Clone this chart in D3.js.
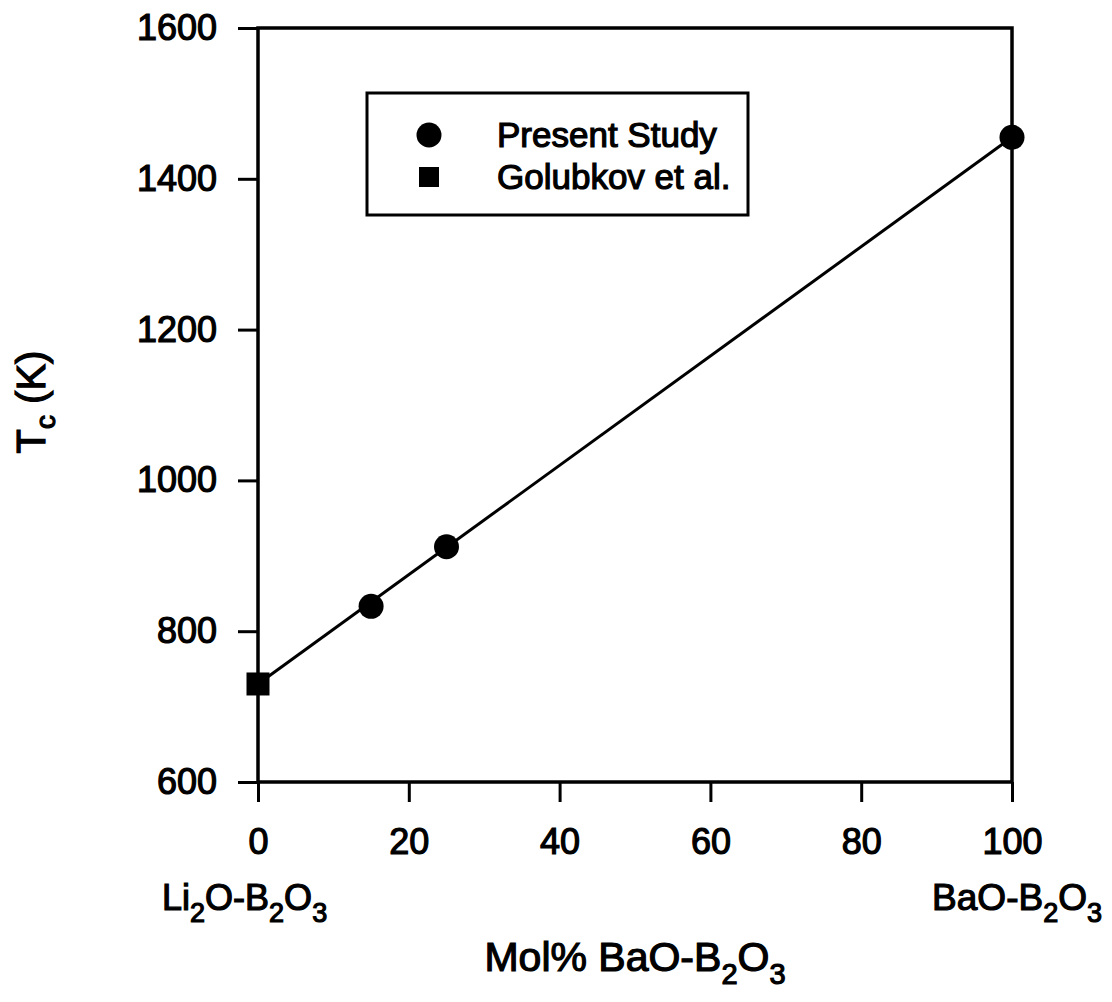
<!DOCTYPE html>
<html><head><meta charset="utf-8">
<script src="https://cdn.jsdelivr.net/npm/d3@7"></script>
<style>body{margin:0;background:#fff}svg{display:block}text{font-family:"Liberation Sans",Arial,sans-serif;fill:#000;stroke:#000;stroke-width:1.2px}</style>
</head><body><svg id="c" width="1112" height="1002"></svg>
<script>
const presentX = [15, 25, 100];
const presentY = [833, 912, 1455];
const golubkovX = [0];
const golubkovY = [730];
const fitX = [0, 100];
const fitY = [730, 1455];
const xTicks = [0, 20, 40, 60, 80, 100];
const yTicks = [600, 800, 1000, 1200, 1400, 1600];
const legendLabels = ["Present Study", "Golubkov et al."];

const svg = d3.select("#c");
const x = d3.scaleLinear().domain([0, 100]).range([258, 1012]);
const y = d3.scaleLinear().domain([600, 1600]).range([782, 28]);
const FS = 36;

// axes
const gx = svg.append("g").attr("transform", "translate(0,782)")
  .call(d3.axisBottom(x).tickValues(xTicks).tickSize(20).tickPadding(26).tickFormat(d3.format("d")));
const gy = svg.append("g").attr("transform", "translate(258,0)")
  .call(d3.axisLeft(y).tickValues(yTicks).tickSize(20).tickPadding(21).tickFormat(d3.format("d")));
[gx, gy].forEach(g => {
  g.select(".domain").remove();
  g.selectAll(".tick line").attr("stroke", "#000").attr("stroke-width", 3);
  g.selectAll(".tick text").attr("font-size", FS).attr("font-family", "Liberation Sans, Arial, sans-serif").attr("fill", "#000");
});
// frame
svg.append("rect").attr("x", x(0)).attr("y", y(1600)).attr("width", x(100) - x(0)).attr("height", y(600) - y(1600))
  .attr("fill", "none").attr("stroke", "#000").attr("stroke-width", 3.5);

// fit line
const line = d3.line().x(d => x(d[0])).y(d => y(d[1]));
svg.append("path").datum(d3.zip(fitX, fitY)).attr("d", line).attr("fill", "none").attr("stroke", "#000").attr("stroke-width", 3);

// markers
svg.selectAll("circle.p").data(d3.zip(presentX, presentY)).join("circle").attr("class", "p")
  .attr("cx", d => x(d[0])).attr("cy", d => y(d[1])).attr("r", 12.5).attr("fill", "#000");
const sq = 23;
svg.selectAll("rect.g").data(d3.zip(golubkovX, golubkovY)).join("rect").attr("class", "g")
  .attr("x", d => x(d[0]) - sq / 2).attr("y", d => y(d[1]) - sq / 2).attr("width", sq).attr("height", sq).attr("fill", "#000");

// legend
svg.append("rect").attr("x", 367).attr("y", 93).attr("width", 381).attr("height", 122)
  .attr("fill", "#fff").attr("stroke", "#000").attr("stroke-width", 3);
svg.append("circle").attr("cx", 429).attr("cy", 135).attr("r", 12.5).attr("fill", "#000");
svg.append("rect").attr("x", 419).attr("y", 167).attr("width", 20).attr("height", 20).attr("fill", "#000");
legendLabels.forEach((t, i) => {
  svg.append("text").attr("x", 497).attr("y", 147 + i * 42).attr("font-size", 35).text(t);
});

// text with subscripts: parts = [[text, isSub], ...]
function rich(sel, parts, fs, subFs, shift) {
  let down = false;
  parts.forEach(p => {
    const ts = sel.append("tspan").text(p[0]);
    if (p[1]) { ts.attr("font-size", subFs); if (!down) { ts.attr("dy", shift); down = true; } }
    else if (down) { ts.attr("dy", -shift); down = false; }
  });
}
const l1 = svg.append("text").attr("x", 162).attr("y", 910).attr("font-size", 36);
rich(l1, [["Li"], ["2", 1], ["O-B"], ["2", 1], ["O"], ["3", 1]], 36, 27, 12);

const l2 = svg.append("text").attr("x", 1102).attr("y", 910).attr("text-anchor", "end").attr("font-size", 37);
rich(l2, [["BaO-B"], ["2", 1], ["O"], ["3", 1]], 37, 27, 12);

// x title
const xt = svg.append("text").attr("x", 635).attr("y", 971).attr("text-anchor", "middle").attr("font-size", 41);
rich(xt, [["Mol% BaO-B"], ["2", 1], ["O"], ["3", 1]], 41, 29, 13);

// y title
const yt = svg.append("text").attr("transform", "translate(45,402) rotate(-90)").attr("text-anchor", "middle").attr("font-size", 40);
rich(yt, [["T"], ["c", 1], [" (K)"]], 40, 28, 10);
</script></body></html>
